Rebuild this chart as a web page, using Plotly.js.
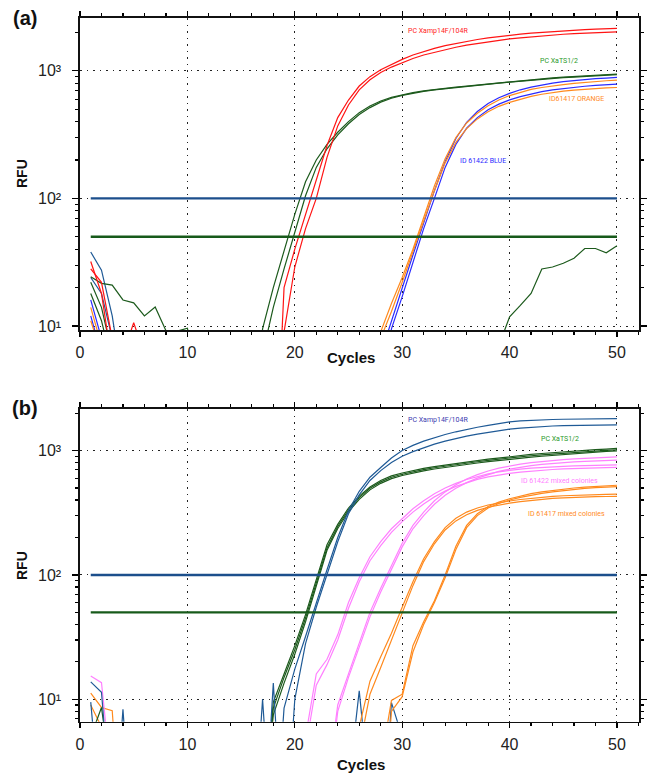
<!DOCTYPE html>
<html><head><meta charset="utf-8">
<script src="https://cdn.plot.ly/plotly-3.0.1.min.js"></script>
<style>html,body{margin:0;padding:0;background:#fff}#chart{width:648px;height:773px}</style>
</head><body><div id="chart"></div>
<script>
// ---------- data ----------
const cycles = [1,2,3,4,5,6,7,8,9,10,11,12,13,14,15,16,17,18,19,20,21,22,23,24,25,26,27,28,29,30,31,32,33,34,35,36,37,38,39,40,41,42,43,44,45,46,47,48,49,50];

// panel (a)
const aRed1 = [28,22,8,3,1,1,1,1,1,1,1,1,1,1,1,1,1,0.3,20,40,75,135,260,430,590,760,900,1020,1120,1230,1330,1420,1500,1575,1640,1700,1760,1810,1860,1900,1940,1975,2005,2035,2060,2085,2105,2125,2140,2150];
const aRed2 = [32,18,5,6,10.6,6,1,1,1,1,1,1,1,1,1,1,1,1,9,29,58,100,210,370,540,710,850,970,1070,1160,1250,1330,1400,1470,1530,1590,1640,1690,1740,1780,1815,1850,1880,1910,1935,1960,1980,2000,2010,2020];
const aGrn1 = [24.3,21.6,20.9,16,15.2,12,14.1,9.2,9.1,9.6,4,1,1,1,1,0.5,9.5,20,38,75,135,200,265,330,400,470,530,580,620,650,675,697,715,730,745,760,775,792,808,825,840,854,867,880,892,903,914,924,933,942];
const aGrn2 = [22,14,6,2,1,1,1,1,1,1,1,1,1,1,1,1,6,14,28,55,105,175,245,315,385,455,515,568,610,642,668,690,708,724,739,754,769,785,800,816,831,845,858,871,883,894,905,915,924,933];
const aGrn3 = [18,11,5,1,1,1,1,1,1,1,1,1,1,1,1,1,1,1,1,1,1,1,1,1,1,1,1,1,1,1,1,1,1,1,1,1,1,1,7,11.8,14.5,18,28,29,31,34,40.5,40.5,37.5,42.5];
const aBlu1 = [16,8,1,1,1,1,1,1,1,1,1,1,1,1,1,1,1,1,1,1,1,1,1,1,1,1,1,6,11,20,36,64,115,195,295,395,480,555,615,665,710,745,775,800,822,840,855,868,878,887];
const aBlu2 = [12,6,1,1,1,1,1,1,1,1,1,1,1,1,1,1,1,1,1,1,1,1,1,1,1,1,1,3,9.5,17,32,58,100,175,265,355,430,495,548,592,628,660,686,708,727,743,757,768,778,787];
const aOra1 = [14,7,1,1,1,1,1,1,1,1,1,1,1,1,1,1,1,1,1,1,1,1,1,1,1,1,3,9,15,24,40,70,125,205,300,390,465,532,590,640,680,715,740,762,780,797,812,825,836,845];
const aOra2 = [11,6,1,1,1,1,1,1,1,1,1,1,1,1,1,1,1,1,1,1,1,1,1,1,1,1,1,8,13,22,38,66,115,190,275,352,420,478,527,566,600,630,655,675,692,706,718,727,734,740];
const aNavy1 = [38,27.4,12,3,1,1,1,1,1,1,1,1,1,1,1,1,1,1,1,1,1,1,1,1,1,1,1,1,1,1,1,1,1,1,1,1,1,1,1,1,1,1,1,1,1,1,1,1,1,1];
const aNavy2 = [24,18,8,2,1,1,1,1,1,1,1,1,1,1,1,1,1,1,1,1,1,1,1,1,1,1,1,1,1,1,1,1,1,1,1,1,1,1,1,1,1,1,1,1,1,1,1,1,1,1];

// panel (b)
const bNavy1 = [13.8,11.4,1,0.5,0.5,0.5,0.5,0.5,0.5,0.5,0.5,0.5,0.5,0.5,0.5,0.5,10,0.5,8.5,17.5,32,60,110,200,330,470,610,730,870,1000,1100,1190,1270,1345,1415,1480,1540,1595,1650,1700,1730,1750,1765,1776,1785,1792,1798,1802,1805,1808];
const bNavy2 = [9.5,1,0.5,8.3,0.5,0.5,0.5,0.5,0.5,0.5,0.5,0.5,0.5,0.5,0.5,0.5,0.5,13.5,0.5,10,28,55,100,185,310,440,575,690,800,900,980,1055,1125,1190,1250,1305,1355,1400,1445,1485,1515,1540,1560,1575,1586,1594,1600,1604,1606,1608];
const bNavy3 = [0.5,0.5,0.5,0.5,0.5,0.5,0.5,0.5,0.5,0.5,0.5,0.5,0.5,0.5,0.5,0.5,0.5,0.5,0.5,0.5,0.5,0.5,0.5,0.5,2,11.7,1.6,0.5,9.4,5,0.5,0.5,0.5,0.5,0.5,0.5,0.5,0.5,0.5,0.5,0.5,0.5,0.5,0.5,0.5,0.5,0.5,0.5,0.5,0.5];
const bGrn1 = [5,8.6,2,0.5,0.5,0.5,0.5,0.5,0.5,0.5,0.5,0.5,0.5,0.5,0.5,0.5,1,9.5,16,27,48,92,175,255,345,430,510,575,625,660,690,718,742,765,787,808,830,852,873,893,912,930,947,963,978,992,1005,1017,1028,1040];
const bGrn2 = [0.5,0.5,0.5,0.5,0.5,0.5,0.5,0.5,0.5,0.5,0.5,0.5,0.5,0.5,0.5,0.5,1,8.5,15,25,45,87,165,245,333,418,497,560,610,645,675,703,727,750,771,792,813,834,854,873,891,908,924,939,953,966,979,991,1003,1015];
const bGrn3 = [0.5,0.5,0.5,0.5,0.5,0.5,0.5,0.5,0.5,0.5,0.5,0.5,0.5,0.5,0.5,0.5,1,7.5,13.5,23,42,82,158,236,322,405,483,545,595,630,660,687,711,733,754,774,794,814,833,851,868,885,900,915,929,943,957,970,983,995];
const bPnk1 = [15.4,13.6,2,0.5,0.5,0.5,0.5,0.5,0.5,0.5,0.5,0.5,0.5,0.5,0.5,0.5,0.5,0.5,0.5,0.5,5,16,21,33,60,95,140,185,235,285,340,395,450,500,545,585,620,650,675,695,710,722,732,740,747,752,757,761,765,768];
const bPnk2 = [4,2,0.5,0.5,0.5,0.5,0.5,0.5,0.5,0.5,0.5,0.5,0.5,0.5,0.5,0.5,0.5,0.5,0.5,0.5,4,13,19,30,54,88,130,172,220,268,320,372,424,472,515,553,586,614,637,656,671,684,695,704,711,717,722,726,729,731];
const bPnk3 = [0.5,0.5,0.5,0.5,0.5,0.5,0.5,0.5,0.5,0.5,0.5,0.5,0.5,0.5,0.5,0.5,0.5,0.5,0.5,0.5,0.5,0.5,2,9,16,28,50,78,120,180,250,320,395,465,530,590,640,685,722,752,778,800,818,833,846,857,867,875,882,889];
const bPnk4 = [0.5,0.5,0.5,0.5,0.5,0.5,0.5,0.5,0.5,0.5,0.5,0.5,0.5,0.5,0.5,0.5,0.5,0.5,0.5,0.5,0.5,0.5,1.5,8,15,26,46,73,112,168,235,300,370,437,497,552,600,643,680,710,735,756,773,788,800,810,818,825,831,836];
const bOra1 = [11.2,8.6,8.1,0.5,0.5,0.5,0.5,0.5,0.5,0.5,0.5,0.5,0.5,0.5,0.5,0.5,0.5,0.5,0.5,0.5,0.5,0.5,0.5,0.5,0.5,6,14,22,34,55,88,135,185,240,285,320,345,365,380,393,404,413,421,428,433,437,440,443,445,446];
const bOra2 = [9,6,1,0.5,0.5,0.5,0.5,0.5,0.5,0.5,0.5,0.5,0.5,0.5,0.5,0.5,0.5,0.5,0.5,0.5,0.5,0.5,0.5,0.5,0.5,4,11,18,30,50,82,128,178,230,272,305,330,350,365,378,389,398,406,412,417,421,424,426,427,428];
const bOra3 = [0.5,0.5,0.5,0.5,0.5,0.5,0.5,0.5,0.5,0.5,0.5,0.5,0.5,0.5,0.5,0.5,0.5,0.5,0.5,0.5,0.5,0.5,0.5,0.5,0.5,0.5,0.5,3,9.8,11,27,42,62,100,170,250,310,355,385,410,432,450,465,478,490,500,508,515,521,526];
const bOra4 = [0.5,0.5,0.5,0.5,0.5,0.5,0.5,0.5,0.5,0.5,0.5,0.5,0.5,0.5,0.5,0.5,0.5,0.5,0.5,0.5,0.5,0.5,0.5,0.5,0.5,0.5,0.5,0.5,8,10.5,24,40,60,95,160,240,300,345,375,400,420,437,452,465,477,488,497,504,509,513];

// thresholds
const thrCycles = [1, 50];
const thrHigh = [100, 100];
const thrLow = [50, 50];

// axis ticks
const xTickStep = 10;
const yTickVals = [10, 100, 1000];
const yTickText = ['10\u00B9', '10\u00B2', '10\u00B3'];
const yMinorVals = [2,3,4,5,6,7,8,9,20,30,40,50,60,70,80,90,200,300,400,500,600,700,800,900,2000,3000];

// labels
const labelsA = ['PC Xamp14F/104R', 'PC XaTS1/2', 'ID61417 ORANGE', 'ID 61422 BLUE'];
const labelsB = ['PC Xamp14F/104R', 'PC XaTS1/2', 'ID 61422 mixed colonies', 'ID 61417 mixed colonies'];

// ---------- styling ----------
const C = {
  red: '#ff1414', green: '#1c5a1c', blue: '#2a2aff', orange: '#ff8a1e',
  navy: '#1f5a96', pink: '#ff80ff', thrBlue: '#1c4f8c', thrGreen: '#175a1a'
};
const W = 648, H = 773;
const px = v => v / W, py = v => 1 - v / H;

function ln(y, color, xa, ya, w) {
  return {x: cycles, y: y, type: 'scatter', mode: 'lines', xaxis: xa, yaxis: ya,
    line: {color: color, width: w || 1.2}, hoverinfo: 'skip', showlegend: false};
}
function thr(y, color, xa, ya) {
  return {x: thrCycles, y: y, type: 'scatter', mode: 'lines', xaxis: xa, yaxis: ya,
    line: {color: color, width: 2.4}, hoverinfo: 'skip', showlegend: false};
}

const traces = [
  ln(aNavy1, C.navy, 'x', 'y'), ln(aNavy2, C.navy, 'x', 'y'),
  ln(aBlu1, C.blue, 'x', 'y'), ln(aBlu2, C.blue, 'x', 'y'),
  ln(aOra1, C.orange, 'x', 'y'), ln(aOra2, C.orange, 'x', 'y'),
  ln(aGrn3, C.green, 'x', 'y'),
  ln(aGrn1, C.green, 'x', 'y'), ln(aGrn2, C.green, 'x', 'y'),
  ln(aRed1, C.red, 'x', 'y'), ln(aRed2, C.red, 'x', 'y'),
  thr(thrHigh, C.thrBlue, 'x', 'y'), thr(thrLow, C.thrGreen, 'x', 'y'),

  ln(bNavy3, C.navy, 'x2', 'y2'),
  ln(bOra1, C.orange, 'x2', 'y2'), ln(bOra2, C.orange, 'x2', 'y2'),
  ln(bOra3, C.orange, 'x2', 'y2'), ln(bOra4, C.orange, 'x2', 'y2'),
  ln(bPnk1, C.pink, 'x2', 'y2'), ln(bPnk2, C.pink, 'x2', 'y2'),
  ln(bPnk3, C.pink, 'x2', 'y2'), ln(bPnk4, C.pink, 'x2', 'y2'),
  ln(bGrn1, C.green, 'x2', 'y2'), ln(bGrn2, C.green, 'x2', 'y2'), ln(bGrn3, C.green, 'x2', 'y2'),
  ln(bNavy1, C.navy, 'x2', 'y2'), ln(bNavy2, C.navy, 'x2', 'y2'),
  thr(thrHigh, C.thrBlue, 'x2', 'y2'), thr(thrLow, C.thrGreen, 'x2', 'y2')
];

const tickFont = {family: 'Liberation Sans, Arial, sans-serif', size: 16, color: '#222'};
function xAxis(anchor) {
  return {domain: [px(80), px(639)], range: [0, 52.05], anchor: anchor,
    tick0: 0, dtick: xTickStep, ticks: 'outside', ticklen: 5, tickwidth: 1.3, tickcolor: '#000',
    ticklabelstandoff: 2,
    minor: {dtick: 2, ticks: 'outside', ticklen: 3, tickwidth: 1.2, tickcolor: '#000', showgrid: false},
    showgrid: true, gridcolor: '#222', gridwidth: 1, griddash: '1.5px,5px',
    showline: true, linecolor: '#111', linewidth: 1.6, mirror: 'ticks', zeroline: false,
    tickfont: tickFont, fixedrange: true};
}
function yAxis(anchor, d0, d1, r0, r1) {
  return {type: 'log', domain: [py(d0), py(d1)], range: [r0, r1], anchor: anchor,
    tickmode: 'array', tickvals: yTickVals, ticktext: yTickText,
    ticks: 'outside', ticklen: 6, tickwidth: 1.3, tickcolor: '#000', ticklabelstandoff: 8,
    minor: {tickmode: 'array', tickvals: yMinorVals, ticks: 'outside', ticklen: 3, tickwidth: 1.2, tickcolor: '#000', showgrid: false},
    showgrid: true, gridcolor: '#222', gridwidth: 1, griddash: '1.5px,5px',
    showline: true, linecolor: '#111', linewidth: 1.6, mirror: 'ticks', zeroline: false,
    tickfont: {family: 'Liberation Sans, Arial, sans-serif', size: 16, color: '#222'}, fixedrange: true};
}

const lblFont = (c) => ({family: 'Roboto, Open Sans, sans-serif', size: 7, color: c});
function ann(text, x, y, font, extra) {
  return Object.assign({text: text, xref: 'paper', yref: 'paper', x: px(x), y: py(y),
    xanchor: 'center', yanchor: 'middle', showarrow: false, font: font}, extra || {});
}
const boldFont = (s) => ({family: 'Liberation Sans, Arial, sans-serif', size: s, color: '#111', weight: 'bold'});

const annotations = [
  ann('(a)', 25, 18, boldFont(20)),
  ann('(b)', 25, 408, boldFont(20)),
  ann('Cycles', 351, 358, boldFont(15)),
  ann('Cycles', 361, 764, boldFont(15)),
  ann('RFU', 22, 174, boldFont(14), {textangle: -90}),
  ann('RFU', 22, 566, boldFont(14), {textangle: -90}),
  ann(labelsA[0], 438, 31, lblFont('#ff2020')),
  ann(labelsA[1], 559, 61, lblFont('#2a9a2a')),
  ann(labelsA[2], 576, 99, lblFont('#ff8a1e')),
  ann(labelsA[3], 483, 161, lblFont('#2a2aff')),
  ann(labelsB[0], 438, 420, lblFont('#3a3ab0')),
  ann(labelsB[1], 560, 439, lblFont('#2a9a2a')),
  ann(labelsB[2], 559, 481, lblFont('#ff80ff')),
  ann(labelsB[3], 566, 514, lblFont('#ff8a1e'))
];

const layout = {
  width: W, height: H, margin: {l: 0, r: 0, t: 0, b: 0},
  paper_bgcolor: '#fff', plot_bgcolor: '#fff', showlegend: false,
  xaxis: xAxis('y'), yaxis: yAxis('x', 330, 18, 0.9687, 3.414),
  xaxis2: xAxis('y2'), yaxis2: yAxis('x2', 721.7, 409, 0.82, 3.334),
  annotations: annotations
};

Plotly.newPlot('chart', traces, layout, {staticPlot: true, displayModeBar: false});
</script></body></html>
